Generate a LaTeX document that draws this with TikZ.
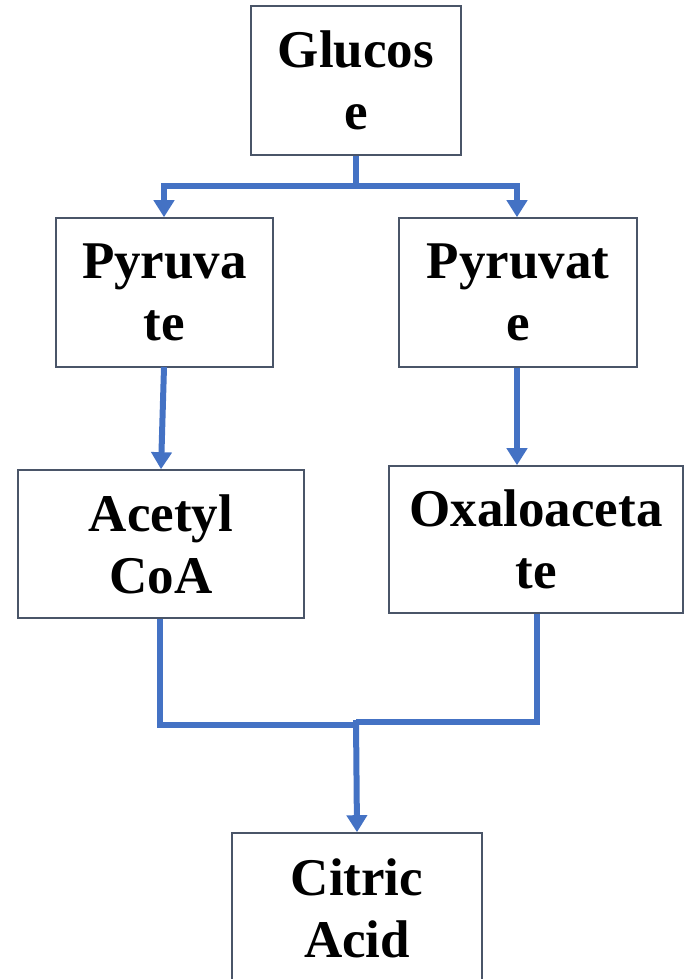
\documentclass[tikz,border=0pt]{standalone}
\usepackage{fontspec}
\setmainfont{Liberation Serif}[BoldFont={Liberation Serif Bold}]
\usetikzlibrary{arrows.meta,calc}
\definecolor{flowblue}{HTML}{4472C4}
\definecolor{boxline}{HTML}{4A5568}
\tikzset{
  box/.style={draw=boxline, line width=1.6pt, fill=white, align=center, inner sep=0pt,
    font=\fontsize{53}{62}\selectfont\bfseries},
  flow/.style={draw=flowblue, line width=6pt},
  flowarrow/.style={flow, -{Triangle[width=20pt,length=17pt]}}
}
\begin{document}
\begin{tikzpicture}[x=1pt,y=-1pt]
\useasboundingbox (0,0) rectangle (689,979);
\node[box, minimum width=210pt, minimum height=149pt] (glu) at (356,80.5) {\textbf{Glucos}\\\textbf{e}};
\node[box, minimum width=217pt, minimum height=149pt] (pyrL) at (164.5,292.5) {\textbf{Pyruva}\\\textbf{te}};
\node[box, minimum width=238pt, minimum height=149pt] (pyrR) at (518,292.5) {\textbf{Pyruvat}\\\textbf{e}};
\node[box, minimum width=286pt, minimum height=148pt] (ace) at (161,544) {\textbf{Acetyl}\\\textbf{CoA}};
\node[box, minimum width=294pt, minimum height=147pt] (oxa) at (536,539.5) {\textbf{Oxaloaceta}\\\textbf{te}};
\node[box, minimum width=250pt, minimum height=150pt] (cit) at (357,908) {\textbf{Citric}\\\textbf{Acid}};
% top split
\coordinate (j1) at (356,186);
\coordinate (jl) at (164,186);
\coordinate (jr) at (517,186);
\draw[flow] (glu.south) -- (j1);
\draw[flow, line cap=rect] (jl) -- (jr);
\draw[flowarrow] (jl) -- (jl |- pyrL.north);
\draw[flowarrow] (jr) -- (jr |- pyrR.north);
% middle
\draw[flowarrow] (164,367) -- (ace.north);
\draw[flowarrow] (pyrR.south -| jr) -- (jr |- oxa.north);
% merge
\coordinate (ml) at (160,725);
\coordinate (mr) at (537,722);
\coordinate (mc) at (356,725);
\draw[flow, line join=miter] (ace.south -| ml) -- (ml) -- (mc);
\draw[flow, line join=miter] (oxa.south -| mr) -- (mr) -- (356,722);
\draw[flowarrow] (356,720) -- (cit.north);
\end{tikzpicture}
\end{document}
